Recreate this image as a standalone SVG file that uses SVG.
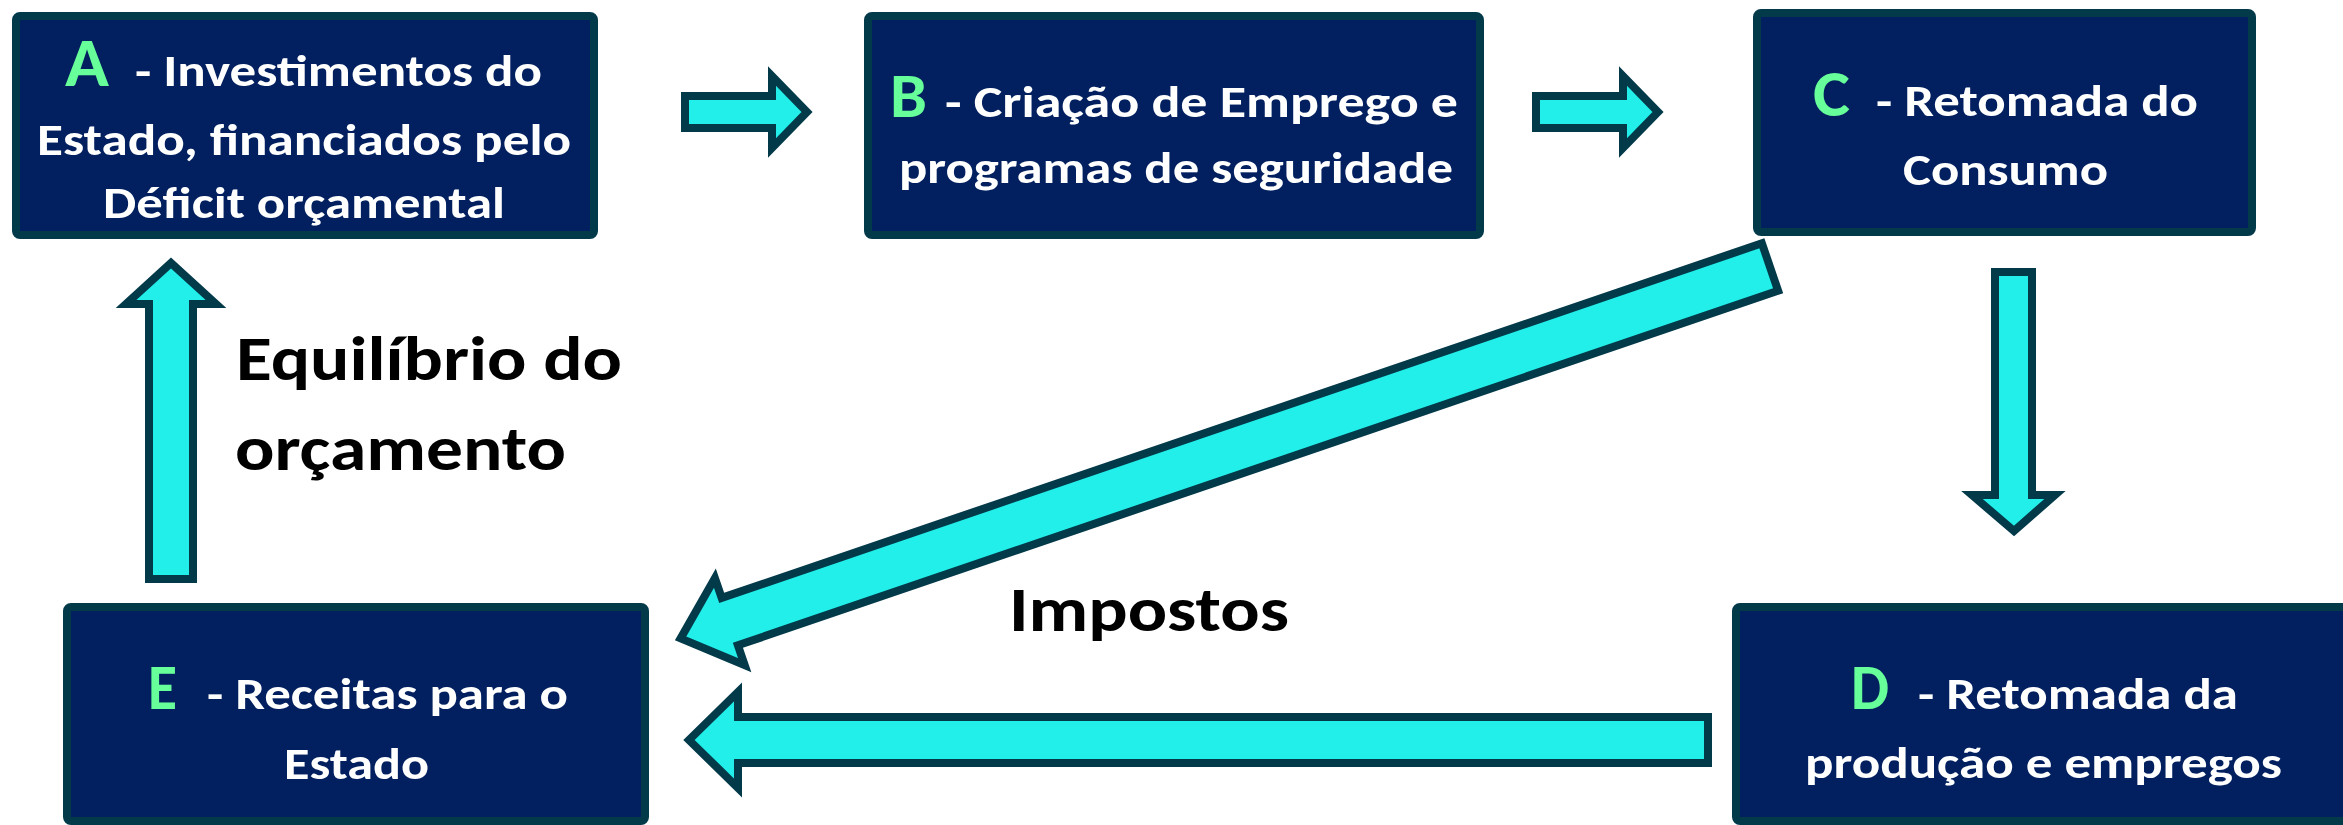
<svg xmlns="http://www.w3.org/2000/svg" width="2343" height="825" viewBox="0 0 2343 825">
<style>
.box{fill:#02205f;stroke:#033a4a;stroke-width:8}
.arr{fill:#22efe9;stroke:#033a4a;stroke-width:8;stroke-linejoin:miter;stroke-miterlimit:10}
.t{font-family:Carlito,Lato,"Open Sans",sans-serif;font-weight:bold;fill:#ffffff;font-size:45px}
.k{font-family:Carlito,Lato,"Open Sans",sans-serif;font-weight:bold;fill:#66ff99}
.lbl{font-family:Carlito,Lato,"Open Sans",sans-serif;font-weight:bold;fill:#000000;font-size:63px}
</style>
<rect width="2343" height="825" fill="#ffffff"/>
<g id="connectors">
<polygon class="arr" points="685,96 772,96 772,76 807,112 772,148 772,128 685,128"/>
<polygon class="arr" points="1536,96 1623,96 1623,76 1658,112 1623,148 1623,128 1536,128"/>
<polygon class="arr" points="1995,272 2032,272 2032,495 2055,495 2014,531 1972,495 1995,495"/>
<polygon class="arr" points="1761.9,243.3 721.7,597.9 714.9,578.1 680.6,638.4 744.7,665.1 737.9,645.3 1778.1,290.7"/>
<polygon class="arr" points="1708,717 738,717 738,692 689,740 738,788 738,763 1708,763"/>
<polygon class="arr" points="149,579 149,304 126,304 171,263 216,304 193,304 193,579"/>
</g>
<g id="node-A">
<rect class="box" x="16" y="16" width="578" height="219" rx="4"/>
<text class="k" x="65" y="86" font-size="68" textLength="44" lengthAdjust="spacingAndGlyphs">A</text>
<text class="t" x="135" y="86" textLength="407" lengthAdjust="spacingAndGlyphs">- Investimentos do</text>
<text class="t" x="37" y="155" textLength="534" lengthAdjust="spacingAndGlyphs">Estado, financiados pelo</text>
<text class="t" x="103" y="218" textLength="402" lengthAdjust="spacingAndGlyphs">Déficit orçamental</text>
</g>
<g id="node-B">
<rect class="box" x="868" y="16" width="612" height="219" rx="4"/>
<text class="k" x="890" y="117" font-size="63" textLength="37" lengthAdjust="spacingAndGlyphs">B</text>
<text class="t" x="945" y="117" textLength="513" lengthAdjust="spacingAndGlyphs">- Criação de Emprego e</text>
<text class="t" x="899" y="183" textLength="554" lengthAdjust="spacingAndGlyphs">programas de seguridade</text>
</g>
<g id="node-C">
<rect class="box" x="1757" y="13" width="495" height="219" rx="4"/>
<text class="k" x="1813" y="116" font-size="67" textLength="37" lengthAdjust="spacingAndGlyphs">C</text>
<text class="t" x="1876" y="116" textLength="322" lengthAdjust="spacingAndGlyphs">- Retomada do</text>
<text class="t" x="1903" y="185" textLength="205" lengthAdjust="spacingAndGlyphs">Consumo</text>
</g>
<g id="node-D">
<rect class="box" x="1736" y="607" width="700" height="214" rx="4"/>
<text class="k" x="1851" y="709" font-size="64" textLength="38" lengthAdjust="spacingAndGlyphs">D</text>
<text class="t" x="1918" y="709" textLength="320" lengthAdjust="spacingAndGlyphs">- Retomada da</text>
<text class="t" x="1805" y="778" textLength="477" lengthAdjust="spacingAndGlyphs">produção e empregos</text>
</g>
<g id="node-E">
<rect class="box" x="67" y="607" width="578" height="214" rx="4"/>
<text class="k" x="148" y="709" font-size="64" textLength="29" lengthAdjust="spacingAndGlyphs">E</text>
<text class="t" x="207" y="709" textLength="361" lengthAdjust="spacingAndGlyphs">- Receitas para o</text>
<text class="t" x="284" y="779" textLength="145" lengthAdjust="spacingAndGlyphs">Estado</text>
</g>
<g id="labels">
<text class="lbl" x="236" y="380" textLength="386" lengthAdjust="spacingAndGlyphs">Equilíbrio do</text>
<text class="lbl" x="235" y="470" textLength="331" lengthAdjust="spacingAndGlyphs">orçamento</text>
<text class="lbl" x="1009" y="631" textLength="280" lengthAdjust="spacingAndGlyphs">Impostos</text>
</g>
</svg>
